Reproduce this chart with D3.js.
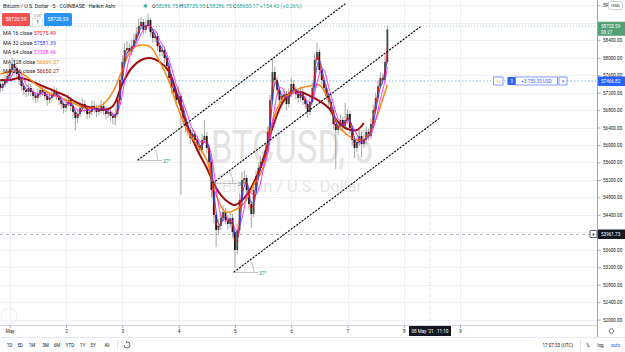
<!DOCTYPE html>
<html>
<head>
<meta charset="utf-8">
<script src="https://cdnjs.cloudflare.com/ajax/libs/d3/7.8.5/d3.min.js"></script>
<style>
  body { margin: 0; background: #fff; }
  svg { display: block; font-family: Roboto, "Liberation Sans", sans-serif; }
</style>
</head>
<body>
<div id="chart"></div>
<script>

// size of the page and of the chart pane
var width = 625
var height = 352
var paneW = 597
var paneH = 325

// hourly candles, first one opens 30 Apr 2021 20:00 UTC
var startTime = Date.UTC(2021, 3, 30, 20)
var firstOpen = 57400
var closes = [
  57307,57399,57490,57582,57719,57857,57765,57628,57490,57353,
  57261,57215,57307,57215,57124,57078,57169,57261,57215,57124,
  57032,57078,57169,57215,57124,57032,56940,56849,56940,57032,
  56895,56757,56620,56711,56849,56940,56849,56711,56757,56895,
  56849,56757,56803,56895,56803,56711,56757,56666,56620,56711,
  57032,57490,57903,58178,58223,58132,58269,58407,58544,58727,
  58819,58636,58727,58865,58590,58452,58498,58269,58132,58178,
  57994,57811,57536,57307,57215,57032,57124,56803,56620,56436,
  56345,56161,56253,56116,55978,55887,56116,56207,55932,55612,
  54970,54397,54054,54145,54329,54466,54283,54191,54329,54008,
  53596,54054,54741,55199,55245,54970,54649,54420,54970,55291,
  55474,55612,55703,55887,56299,57032,57673,57490,57261,57032,
  57124,57169,56940,57169,57399,57261,57169,57078,57215,57032,
  56940,56757,56986,57307,57948,58132,57719,57490,57307,57124,
  56986,56803,56482,56345,56436,56574,56436,56574,56711,56390,
  56116,55932,56070,56207,56024,56116,56299,56207,56482,56803,
  57078,57353,57536,57490,57903,58650
]
var highs = [
  57480,57520,57600,57700,57860,58000,57960,57820,57700,57560,
  57430,57380,57420,57400,57300,57230,57300,57380,57360,57300,
  57220,57200,57300,57340,57310,57200,57120,57000,57060,57150,
  57100,56980,56820,56830,56980,57080,57030,56900,56870,57020,
  57000,56920,56930,57030,56990,56880,56870,56830,56760,56850,
  57150,57620,58050,58330,58380,58330,58420,58560,58700,58900,
  58930,58880,58850,59010,58920,58660,58620,58560,58350,58300,
  58260,58080,57880,57600,57400,57300,57350,57200,56900,56700,
  56520,56420,56380,56340,56200,56060,56250,56580,56300,56000,
  55700,55050,54480,54300,54480,54620,54560,54400,54480,54420,
  54100,54200,54900,55380,55420,55320,55050,54720,55080,55420,
  55600,55760,55850,56020,56420,57150,57990,57800,57560,57340,
  57250,57300,57240,57300,57540,57480,57350,57250,57340,57300,
  57120,57000,57100,57430,58100,58340,58200,57800,57570,57400,
  57200,57060,56880,56560,56560,56700,56650,56960,56820,56780,
  56460,56200,56200,56340,56300,56250,56420,56380,56600,56920,
  57200,57480,57680,57640,58050,58736
]
var lows = [
  57210,57240,57330,57420,57500,57650,57640,57520,57380,57250,
  57150,57100,57120,57120,57020,56960,56990,57090,57120,57020,
  56900,56950,57000,57100,57030,56920,56830,56720,56760,56880,
  56780,56620,56340,56500,56640,56780,56740,56590,56610,56680,
  56740,56640,56680,56720,56700,56590,56620,56540,56470,56450,
  56650,56980,57420,57850,58080,58020,58060,58200,58350,58480,
  58650,58530,58560,58650,58480,58340,58360,58160,58020,58030,
  57880,57700,57420,57180,57080,56900,56950,54860,56480,56300,
  56200,56020,56060,55980,55850,55760,55800,56050,55800,55450,
  54800,54200,53660,53950,54050,54250,54180,54060,54100,53880,
  53200,53500,53980,54650,55100,54860,54520,54100,54350,54900,
  55200,55380,55520,55620,55800,56220,56950,57350,57130,56900,
  56920,57020,56800,56860,57100,57150,57050,56960,56990,56920,
  56820,56620,56680,56920,57250,57850,57620,57380,57200,57020,
  56880,56680,56360,55450,56240,56330,56320,56350,56480,56250,
  55980,55700,55830,55980,55720,55930,56030,56100,56130,56400,
  56720,56990,57280,57380,57430,57850
]

// slow moving averages: [candle index, price]
var ma128 = [
  [0,57628],[4,57674],[8,57674],[12,57536],[16,57353],[20,57215],[24,57124],[28,57032],
  [32,56940],[36,56849],[40,56849],[44,56940],[48,57215],[52,57719],[56,58200],[60,58292],
  [64,58246],[68,57903],[72,57444],[76,56803],[80,56299],[84,56001],[88,55657],[92,54855],
  [96,54466],[100,54512],[104,54672],[108,55085],[112,55474],[116,56528],[120,57032],[124,57192],
  [128,57307],[132,57353],[136,57376],[140,57032],[144,56459],[148,56230],[152,56116],[156,56161],
  [160,56574],[164,57215],[165,57376]
]
var ma256 = [
  [0,57490],[4,57490],[8,57536],[12,57490],[16,57399],[20,57307],[24,57215],[28,57124],
  [32,56986],[36,56895],[40,56849],[44,56803],[48,56895],[52,57399],[56,57765],[60,57948],
  [64,57994],[68,57903],[72,57674],[76,57032],[80,56390],[84,55887],[88,55474],[92,55016],
  [96,54741],[100,54626],[104,54787],[108,55131],[112,55658],[116,56390],[120,56940],[124,57215],
  [128,57215],[132,57124],[136,57009],[140,56849],[144,56528],[148,56367],[152,56345],[155,56505]
]

// legend
var maNames = ["MA 16 close", "MA 32 close", "MA 64 close", "MA 128 close", "MA 256 close"]
var maValues = ["57075.49", "57581.39", "57308.46", "56069.57", "56650.27"]
var maColors = ["#f01010", "#1f3cff", "#ff1ff0", "#f28a12", "#9c0c0c"]

// axis ticks
var priceTicks = [52000,52400,52800,53200,53600,54000,54400,54800,55200,55600,56000,
                  56400,56800,57200,57600,58000,58400,58800,59200]
var dayTicks = ["2021-05-01","2021-05-02","2021-05-03","2021-05-04","2021-05-05",
                "2021-05-06","2021-05-07","2021-05-08","2021-05-09"]
var dayLabels = ["May","2","3","4","5","6","7","8","9"]

// dotted channel lines drawn with the trend angle tool
var channelStart = [["2021-05-03T06:40Z",55657],["2021-05-04T14:40Z",55131],["2021-05-04T23:37Z",53091]]
var channelEnd   = [["2021-05-06T22:56Z",59231],["2021-05-08T06:55Z",58705],["2021-05-08T15:24Z",56620]]
var channelLabel = ["37°", "37°", "37°"]

var lastPrice = 58720.59
var positionPrice = 57466.82
var crossPrice = 53961.73
var crossTime = "2021-05-08T11:10Z"

var textCol = "#131722"
var fs = 5.3

var svg = d3.select("#chart")
  .append("svg")
    .attr("width", width)
    .attr("height", height)

var x = d3.scaleUtc()
  .domain([new Date(dayTicks[0]), new Date(dayTicks[7])])
  .range([9.7, 403.8])

var y = d3.scaleLinear()
  .domain([crossPrice, positionPrice])
  .range([234, 81])

var candles = closes.map(function(c, i) {
  return { t: new Date(startTime + i * 3600000), o: i ? closes[i - 1] : firstOpen, h: highs[i], l: lows[i], c: c }
})

svg.append("defs").append("clipPath").attr("id", "pane")
  .append("rect").attr("width", paneW).attr("height", paneH)

var pane = svg.append("g").attr("clip-path", "url(#pane)")

// grid
pane.selectAll(".hgrid").data(priceTicks).enter().append("line")
  .attr("x1", 0).attr("x2", paneW)
  .attr("y1", function(d){ return Math.round(y(d)) + 0.5 })
  .attr("y2", function(d){ return Math.round(y(d)) + 0.5 })
  .attr("stroke", "#eef0f5")
pane.selectAll(".vgrid").data(dayTicks).enter().append("line")
  .attr("x1", function(d){ return Math.round(x(new Date(d))) + 0.5 })
  .attr("x2", function(d){ return Math.round(x(new Date(d))) + 0.5 })
  .attr("y1", 0).attr("y2", paneH)
  .attr("stroke", "#eef0f5")

// watermark
pane.append("text")
  .attr("x", 292).attr("y", 163)
  .attr("text-anchor", "middle")
  .attr("font-size", 46)
  .attr("textLength", 162).attr("lengthAdjust", "spacingAndGlyphs")
  .attr("fill", "#e3e3e3")
  .text("BTCUSD, 5")
pane.append("text")
  .attr("x", 292).attr("y", 192)
  .attr("text-anchor", "middle")
  .attr("font-size", 17)
  .attr("textLength", 140).attr("lengthAdjust", "spacingAndGlyphs")
  .attr("fill", "#e6e6e6")
  .text("Bitcoin / U.S. Dollar")

// position line
pane.append("line")
  .attr("x1", 0).attr("x2", paneW)
  .attr("y1", y(positionPrice)).attr("y2", y(positionPrice))
  .attr("stroke", "#7fb6f0").attr("stroke-dasharray", "1.5,2")

// crosshair
pane.append("line")
  .attr("x1", 0).attr("x2", paneW)
  .attr("y1", y(crossPrice) + 0.5).attr("y2", y(crossPrice) + 0.5)
  .attr("stroke", "#9598a1").attr("stroke-dasharray", "3,3").attr("stroke-width", 0.7)
pane.append("line")
  .attr("x1", x(new Date(crossTime))).attr("x2", x(new Date(crossTime)))
  .attr("y1", 0).attr("y2", paneH)
  .attr("stroke", "#b8bbc2").attr("stroke-dasharray", "3,3").attr("stroke-width", 0.4)

// last price line
pane.append("line")
  .attr("x1", 0).attr("x2", paneW)
  .attr("y1", y(lastPrice)).attr("y2", y(lastPrice))
  .attr("stroke", "#6fb58a").attr("stroke-dasharray", "1,2").attr("stroke-width", 0.7)

// candles
var cg = pane.append("g")
cg.selectAll(".wick").data(candles).enter().append("line")
  .attr("x1", function(d){ return x(d.t) }).attr("x2", function(d){ return x(d.t) })
  .attr("y1", function(d){ return y(d.h) }).attr("y2", function(d){ return y(d.l) })
  .attr("stroke", "#7c847f").attr("stroke-width", 0.7)
cg.selectAll(".body").data(candles).enter().append("rect")
  .attr("x", function(d){ return x(d.t) - 0.9 })
  .attr("width", 1.8)
  .attr("y", function(d){ return y(Math.max(d.o, d.c)) })
  .attr("height", function(d){ return Math.max(0.6, Math.abs(y(d.o) - y(d.c))) })
  .attr("fill", function(d){ return d.c >= d.o ? "#3d5045" : "#161616" })

// moving averages
function rolling(n) {
  return closes.map(function(c, i) {
    return [i, d3.mean(closes.slice(Math.max(0, i - n + 1), i + 1))]
  })
}
var lineGen = d3.line()
  .x(function(d){ return x(new Date(startTime + d[0] * 3600000)) })
  .y(function(d){ return y(d[1]) })
  .curve(d3.curveCatmullRom)

var maSeries = [rolling(2), rolling(3), rolling(5), ma128, ma256]
var maWidths = [0.8, 0.9, 0.9, 1.5, 2]
;[4, 3, 2, 1, 0].forEach(function(k) {
  pane.append("path")
    .datum(maSeries[k])
    .attr("d", lineGen)
    .attr("fill", "none")
    .attr("stroke", maColors[k])
    .attr("stroke-width", maWidths[k])
})

// channel lines with their angle marks
channelStart.forEach(function(s, k) {
  var x0 = x(new Date(s[0])), y0 = y(s[1])
  var x1 = x(new Date(channelEnd[k][0])), y1 = y(channelEnd[k][1])
  pane.append("line")
    .attr("x1", x0).attr("y1", y0).attr("x2", x1).attr("y2", y1)
    .attr("stroke", "#111").attr("stroke-width", 1.2)
    .attr("stroke-dasharray", "1.2,2.2").attr("stroke-linecap", "round")
  pane.append("line")
    .attr("x1", x0).attr("y1", y0 + 0.5).attr("x2", x0 + 24).attr("y2", y0 + 0.5)
    .attr("stroke", "#9a9a9a").attr("stroke-width", 0.6)
  var a = Math.atan2(y0 - y1, x1 - x0)
  var r = 20
  pane.append("path")
    .attr("d", "M" + (x0 + r) + "," + y0 + " A" + r + "," + r + " 0 0 0 " +
      (x0 + r * Math.cos(a)) + "," + (y0 - r * Math.sin(a)))
    .attr("fill", "none").attr("stroke", "#9a9a9a").attr("stroke-width", 0.6)
  pane.append("text")
    .attr("x", x0 + 25).attr("y", y0 + 3)
    .attr("font-size", fs).attr("fill", "#1f8f70")
    .text(channelLabel[k])
})

// position line widgets
var py = y(positionPrice)
svg.append("rect").attr("x", 493.5).attr("y", py - 4).attr("width", 9.5).attr("height", 8)
  .attr("fill", "#fff").attr("stroke", "#2962ff").attr("stroke-width", 0.6)
svg.append("text").attr("x", 498.2).attr("y", py + 1.8).attr("text-anchor", "middle")
  .attr("font-size", 4.5).attr("fill", textCol).text("↑↓")
svg.append("rect").attr("x", 507.5).attr("y", py - 4).attr("width", 8).attr("height", 8)
  .attr("fill", "#2962ff")
svg.append("text").attr("x", 511.5).attr("y", py + 1.8).attr("text-anchor", "middle")
  .attr("font-size", 4.6).attr("fill", "#fff").text("3")
svg.append("rect").attr("x", 515.5).attr("y", py - 4).attr("width", 42).attr("height", 8)
  .attr("fill", "#fff").attr("stroke", "#2962ff").attr("stroke-width", 0.6)
svg.append("text").attr("x", 536.5).attr("y", py + 1.8).attr("text-anchor", "middle")
  .attr("font-size", 4.6).attr("fill", "#2962ff").text("+3 755.33 USD")
svg.append("rect").attr("x", 559).attr("y", py - 4).attr("width", 8).attr("height", 8)
  .attr("fill", "#fff").attr("stroke", "#2962ff").attr("stroke-width", 0.6)
svg.append("text").attr("x", 563).attr("y", py + 1.8).attr("text-anchor", "middle")
  .attr("font-size", 5).attr("fill", "#2962ff").text("×")

// price scale, labels hidden where a tag sits on top of them
var yAxis = svg.append("g")
  .attr("transform", "translate(" + (paneW + 0.5) + ",0)")
  .call(d3.axisRight(y).tickValues(priceTicks).tickSize(3).tickPadding(2.5).tickFormat(d3.format(".2f")))
yAxis.select(".domain").remove()
yAxis.attr("font-size", 4.6).attr("font-family", null)
yAxis.selectAll("line").attr("stroke", "#787b86").attr("stroke-width", 0.6)
yAxis.selectAll("text").attr("fill", textCol)
yAxis.selectAll(".tick").filter(function(d) {
  return Math.abs(y(d) - y(lastPrice)) < 7 || Math.abs(y(d) - y(crossPrice)) < 6 || y(d) < 8
}).select("text").remove()

svg.append("line").attr("x1", paneW + 0.5).attr("x2", paneW + 0.5).attr("y1", 0).attr("y2", 337)
  .attr("stroke", "#8a8d96").attr("stroke-width", 0.8)

// top label, partly under the currency box
svg.append("text").attr("x", 603).attr("y", 7).attr("font-size", 4.6).attr("fill", textCol).text("59")

// time scale
svg.append("line").attr("x1", 0).attr("x2", paneW).attr("y1", paneH + 0.5).attr("y2", paneH + 0.5)
  .attr("stroke", "#c8cad0").attr("stroke-width", 0.8)
var xAxis = svg.append("g")
  .attr("transform", "translate(0," + (paneH + 0.5) + ")")
  .call(d3.axisBottom(x)
    .tickValues(dayTicks.map(function(d){ return new Date(d) }))
    .tickSize(2.5).tickPadding(1.5)
    .tickFormat(function(d, i){ return dayLabels[i] }))
xAxis.select(".domain").remove()
xAxis.attr("font-size", 4.6).attr("font-family", null)
xAxis.selectAll("line").attr("stroke", "#787b86").attr("stroke-width", 0.6)
xAxis.selectAll("text").attr("fill", textCol)
svg.append("line").attr("x1", 0).attr("x2", width).attr("y1", 337.5).attr("y2", 337.5)
  .attr("stroke", "#e0e3eb").attr("stroke-width", 0.8)

// price tags on the scale
function tag(price, fill, label, h) {
  var ty = y(price)
  svg.append("rect").attr("x", paneW + 1).attr("y", ty - 4.5).attr("width", width - paneW - 1)
    .attr("height", h).attr("fill", fill)
  svg.append("text").attr("x", paneW + 4).attr("y", ty + 1.7)
    .attr("font-size", 4.6).attr("fill", "#fff").text(label)
}
tag(lastPrice, "#52a073", d3.format(".2f")(lastPrice), 14)
svg.append("text").attr("x", paneW + 4).attr("y", y(lastPrice) + 7.3)
  .attr("font-size", 4.6).attr("fill", "#fff").text("00:27")
tag(positionPrice, "#2962ff", d3.format(".2f")(positionPrice), 9.5)
tag(crossPrice, "#131722", d3.format(".2f")(crossPrice), 9.5)
svg.append("rect").attr("x", 590).attr("y", y(crossPrice) - 3.5).attr("width", 7).attr("height", 7)
  .attr("rx", 1).attr("fill", "#fff").attr("stroke", "#131722").attr("stroke-width", 0.7)
svg.append("text").attr("x", 593.5).attr("y", y(crossPrice) + 2.2).attr("text-anchor", "middle")
  .attr("font-size", 6).attr("fill", "#131722").text("+")

// currency box at the top of the scale
svg.append("rect").attr("x", 608.5).attr("y", 1.5).attr("width", 14).attr("height", 8).attr("rx", 1.5)
  .attr("fill", "#fff").attr("stroke", "#b2b5be").attr("stroke-width", 0.6)
svg.append("text").attr("x", 615.5).attr("y", 7.3).attr("text-anchor", "middle")
  .attr("font-size", 4.4).attr("fill", textCol).text("USD")

// crosshair time tag
var ctx = x(new Date(crossTime))
svg.append("rect").attr("x", ctx - 21).attr("y", paneH + 1).attr("width", 42).attr("height", 10)
  .attr("fill", "#131722")
svg.append("text").attr("x", ctx).attr("y", paneH + 7.7).attr("text-anchor", "middle")
  .attr("font-size", 4.6).attr("fill", "#fff").attr("xml:space", "preserve").text("08 May '21   11:10")

// gear
svg.append("circle").attr("cx", 611.5).attr("cy", 331).attr("r", 2.2)
  .attr("fill", "none").attr("stroke", textCol).attr("stroke-width", 1)
  .attr("stroke-dasharray", "1,0.6")

// faint round button in the corner
svg.append("circle").attr("cx", 9).attr("cy", 316).attr("r", 8)
  .attr("fill", "none").attr("stroke", "#e3e5ea").attr("stroke-width", 0.7)

// header
var head = svg.append("text").attr("x", 3).attr("y", 8).attr("font-size", fs).attr("fill", textCol)
head.text("Bitcoin / U.S. Dollar · 5 · COINBASE · Heikin Ashi")
svg.append("circle").attr("cx", 145.5).attr("cy", 6).attr("r", 2.6).attr("fill", "#cdeee7")
svg.append("circle").attr("cx", 145.5).attr("cy", 6).attr("r", 1.4).attr("fill", "#26a69a")

var ohlcKeys = ["O", " H", " L", " C", " "]
var ohlcVals = ["58286.75", "58735.95", "58286.75", "58650.17", "+154.43 (+0.26%)"]
var ohlc = svg.append("text").attr("x", 152).attr("y", 8).attr("font-size", fs)
ohlcKeys.forEach(function(k, i) {
  ohlc.append("tspan").attr("fill", textCol).text(k)
  ohlc.append("tspan").attr("fill", "#26a69a").text(ohlcVals[i])
})

// sell / buy buttons
svg.append("rect").attr("x", 2).attr("y", 13).attr("width", 28).attr("height", 13).attr("rx", 1.5)
  .attr("fill", "#f0534f")
svg.append("text").attr("x", 16).attr("y", 21.3).attr("text-anchor", "middle")
  .attr("font-size", 5).attr("fill", "#fff").text("58720.59")
svg.append("rect").attr("x", 44).attr("y", 13).attr("width", 28).attr("height", 13).attr("rx", 1.5)
  .attr("fill", "#2a93f0")
svg.append("text").attr("x", 58).attr("y", 21.3).attr("text-anchor", "middle")
  .attr("font-size", 5).attr("fill", "#fff").text("58720.59")
svg.append("text").attr("x", 37.5).attr("y", 17).attr("text-anchor", "middle")
  .attr("font-size", 3.6).attr("fill", "#787b86").text("0.00")
svg.append("rect").attr("x", 32.5).attr("y", 18.5).attr("width", 10).attr("height", 8)
  .attr("fill", "#fff").attr("stroke", "#d1d4dc").attr("stroke-width", 0.6)
svg.append("text").attr("x", 37.5).attr("y", 24.3).attr("text-anchor", "middle")
  .attr("font-size", 4.8).attr("fill", textCol).text("1")

// legend
maNames.forEach(function(n, i) {
  var t = svg.append("text").attr("x", 3).attr("y", 35.3 + i * 9.5).attr("font-size", fs)
  t.append("tspan").attr("fill", textCol).text(n + " ")
  t.append("tspan").attr("fill", maColors[i]).text(maValues[i])
})

// bottom toolbar
var ranges = ["1D","5D","1M","3M","6M","YTD","1Y","5Y","All"]
var rangeX = [9.5, 20, 32, 45.5, 57, 70, 82.5, 93, 107]
ranges.forEach(function(r, i) {
  svg.append("text").attr("x", rangeX[i]).attr("y", 346.5).attr("text-anchor", "middle")
    .attr("font-size", 4.6).attr("fill", textCol).text(r)
})
svg.append("line").attr("x1", 117.5).attr("x2", 117.5).attr("y1", 340).attr("y2", 350)
  .attr("stroke", "#e0e3eb")
svg.append("path").attr("d", "M124,345 a3,3 0 1 0 3,-3 M127,342 l-1.2,-1.2 M127,342 l-1.2,1.2")
  .attr("fill", "none").attr("stroke", textCol).attr("stroke-width", 0.6)
svg.append("text").attr("x", 573).attr("y", 346.5).attr("text-anchor", "end")
  .attr("font-size", 4.6).attr("fill", textCol).text("17:07:33 (UTC)")
svg.append("line").attr("x1", 580.5).attr("x2", 580.5).attr("y1", 340).attr("y2", 350)
  .attr("stroke", "#e0e3eb")
svg.append("text").attr("x", 588).attr("y", 346.5).attr("text-anchor", "middle")
  .attr("font-size", 4.6).attr("fill", textCol).text("%")
svg.append("text").attr("x", 600.5).attr("y", 346.5).attr("text-anchor", "middle")
  .attr("font-size", 4.6).attr("fill", textCol).text("log")
svg.append("text").attr("x", 615.5).attr("y", 346.5).attr("text-anchor", "middle")
  .attr("font-size", 4.6).attr("fill", "#2962ff").text("auto")

</script>
</body>
</html>
